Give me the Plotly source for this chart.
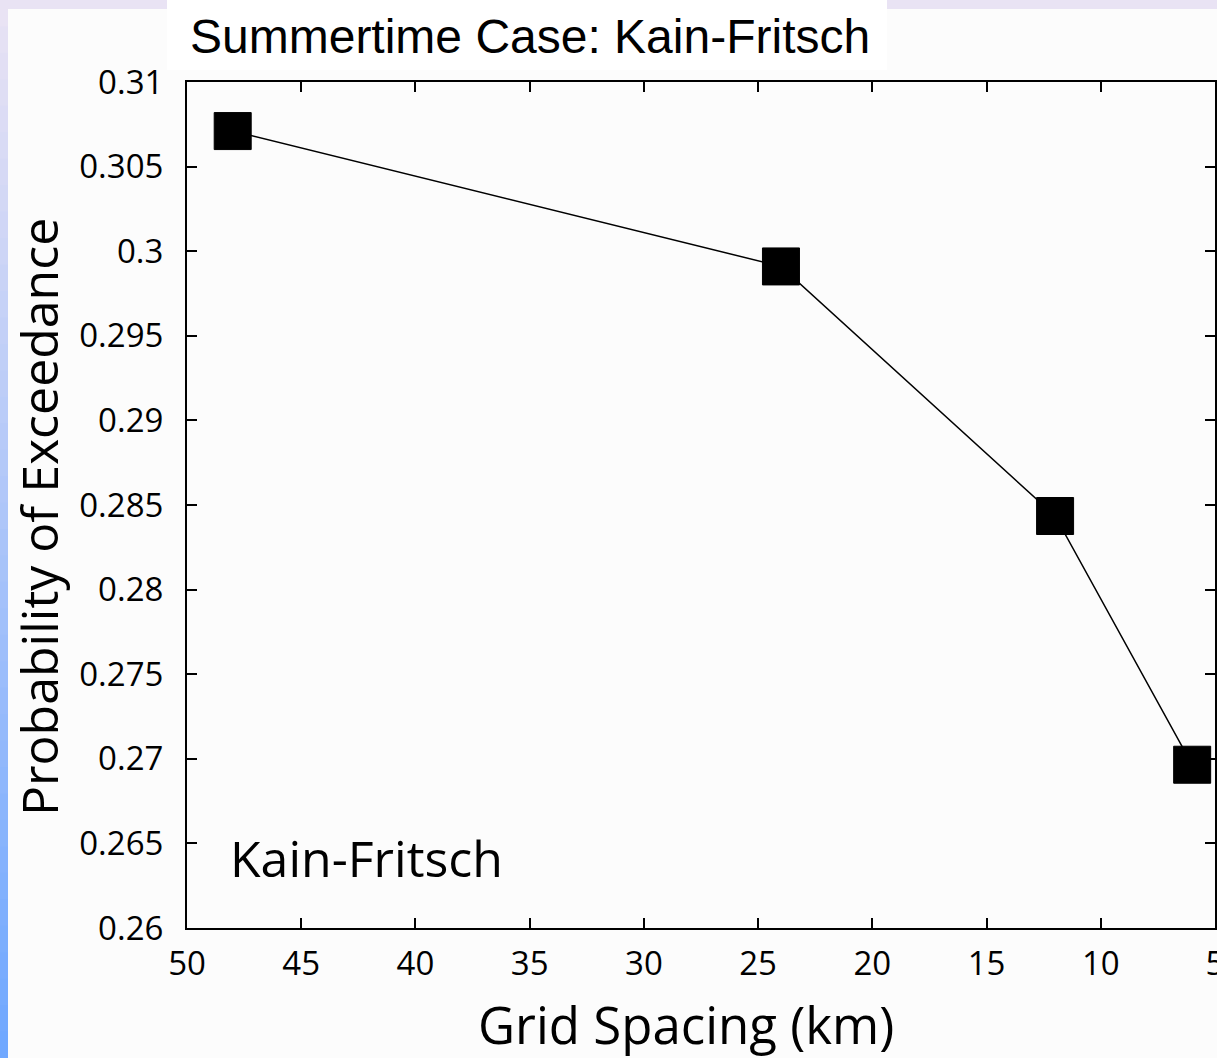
import plotly.graph_objects as go

# data
grid_spacing_km = [48, 24, 12, 6]
prob_exceedance = [0.3071, 0.2991, 0.28435, 0.26965]

x_ticks = [50, 45, 40, 35, 30, 25, 20, 15, 10, 5]
y_ticks = [0.26, 0.265, 0.27, 0.275, 0.28, 0.285, 0.29, 0.295, 0.3, 0.305, 0.31]

W, H = 1217, 1058
L, R, T, B = 187, 2, 82, 130
PW, PH = W - L - R, H - T - B

LAVENDER = "#e9e3f4"
BLUE_BOT = (112, 168, 255)
BLUE_TOP = (233, 227, 244)
AXIS_FONT = "Open Sans, Noto Sans, sans-serif"


def px_x(p):
    return (p - L) / PW


def px_y(p):
    return 1 - (p - T) / PH


fig = go.Figure()
fig.add_trace(go.Scatter(
    x=grid_spacing_km, y=prob_exceedance, mode="lines+markers",
    line=dict(color="black", width=1.5),
    marker=dict(symbol="square", size=37, color="black",
                line=dict(color="black", width=1)),
    showlegend=False, cliponaxis=False,
))

shapes = []
# slide decoration: gradient strip on the left edge
n = 40
for i in range(n):
    t = i / (n - 1)
    c = tuple(int(BLUE_TOP[k] + (BLUE_BOT[k] - BLUE_TOP[k]) * t) for k in range(3))
    y0 = i * H / n
    y1 = (i + 1) * H / n + 1
    shapes.append(dict(type="rect", xref="paper", yref="paper", layer="below",
                       x0=px_x(0), x1=px_x(8), y0=px_y(y1), y1=px_y(y0),
                       fillcolor="rgb(%d,%d,%d)" % c, line=dict(width=0)))
# lavender top band
shapes.append(dict(type="rect", xref="paper", yref="paper", layer="below",
                   x0=px_x(0), x1=px_x(W), y0=px_y(9), y1=px_y(0),
                   fillcolor=LAVENDER, line=dict(width=0)))
# white title box
shapes.append(dict(type="rect", xref="paper", yref="paper", layer="below",
                   x0=px_x(167), x1=px_x(887), y0=px_y(70), y1=px_y(0),
                   fillcolor="white", line=dict(width=0)))

fig.update_layout(
    width=W, height=H,
    margin=dict(l=L, r=R, t=T, b=B, autoexpand=False),
    paper_bgcolor="#fcfcfc", plot_bgcolor="#fcfcfc",
    shapes=shapes,
    annotations=[
        dict(text="Summertime Case: Kain-Fritsch", xref="paper", yref="paper",
             x=px_x(188), y=px_y(36), xanchor="left", yanchor="middle",
             showarrow=False, font=dict(family="Liberation Sans, Arial", size=48, color="black")),
        dict(text="Kain-Fritsch", xref="paper", yref="paper",
             x=px_x(228), y=px_y(858), xanchor="left", yanchor="middle",
             showarrow=False, font=dict(family=AXIS_FONT, size=50, color="black")),
        dict(text="Grid Spacing (km)", xref="paper", yref="paper",
             x=px_x(686), y=px_y(1024), xanchor="center", yanchor="middle",
             showarrow=False, font=dict(family=AXIS_FONT, size=51, color="black")),
        dict(text="Probability of Exceedance", xref="paper", yref="paper",
             x=px_x(39), y=px_y(517), xanchor="center", yanchor="middle", textangle=-90,
             showarrow=False, font=dict(family=AXIS_FONT, size=50, color="black")),
    ],
)

fig.update_xaxes(
    range=[50, 5], tickvals=x_ticks, ticktext=[str(v) for v in x_ticks],
    ticks="inside", ticklen=10, tickwidth=1.5, tickcolor="black",
    showline=True, linecolor="black", linewidth=2, mirror="ticks",
    showgrid=False, zeroline=False, automargin=False, ticklabelstandoff=5,
    ticklabeloverflow="allow",
    tickfont=dict(family=AXIS_FONT, size=33, color="black"),
)
fig.update_yaxes(
    range=[0.26, 0.31], tickvals=y_ticks, ticktext=[("%g" % v) for v in y_ticks],
    ticks="inside", ticklen=10, tickwidth=1.5, tickcolor="black",
    showline=True, linecolor="black", linewidth=2, mirror="ticks",
    showgrid=False, zeroline=False, automargin=False, ticklabelstandoff=15,
    tickfont=dict(family=AXIS_FONT, size=33, color="black"),
)

fig.write_html("out.html", config={"displayModeBar": False},
               post_script="document.body.style.margin='0';")
